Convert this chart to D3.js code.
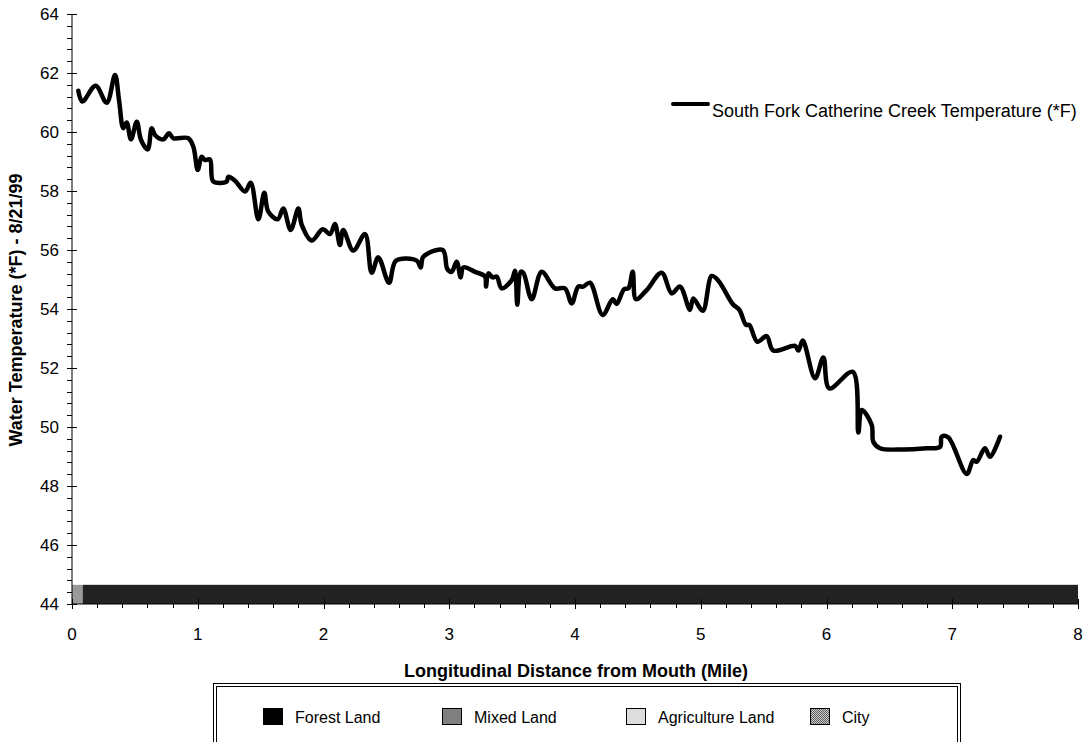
<!DOCTYPE html>
<html>
<head>
<meta charset="utf-8">
<script src="https://cdn.jsdelivr.net/npm/d3@7"></script>
<style>
  html, body { margin: 0; padding: 0; background: #fff; }
  svg { display: block; font-family: "Liberation Sans", Arial, sans-serif; }
</style>
</head>
<body>
<svg id="chart" width="1089" height="742"></svg>
<script>
// Distance from mouth (mile) along South Fork Catherine Creek
const distance = [
  0.050, 0.082, 0.188, 0.276, 0.342, 0.374, 0.408, 0.435, 0.469, 0.515,
  0.549, 0.602, 0.634, 0.660, 0.726, 0.771, 0.806, 0.925, 0.965, 1.000,
  1.031, 1.058, 1.097, 1.124, 1.230, 1.243, 1.296, 1.376, 1.421, 1.482,
  1.529, 1.561, 1.636, 1.680, 1.739, 1.800, 1.827, 1.906, 1.994, 2.052,
  2.091, 2.131, 2.157, 2.237, 2.330, 2.383, 2.436, 2.521, 2.577, 2.741,
  2.773, 2.794, 2.948, 2.985, 3.019, 3.059, 3.091, 3.112, 3.205, 3.284,
  3.292, 3.311, 3.345, 3.377, 3.417, 3.497, 3.523, 3.541, 3.568, 3.589,
  3.656, 3.735, 3.841, 3.920, 3.974, 4.026, 4.066, 4.119, 4.220, 4.300,
  4.331, 4.390, 4.424, 4.459, 4.485, 4.570, 4.689, 4.769, 4.835, 4.914,
  4.941, 5.016, 5.087, 5.140, 5.254, 5.307, 5.360, 5.386, 5.450, 5.524,
  5.577, 5.750, 5.776, 5.811, 5.909, 5.975, 6.022, 6.209, 6.253, 6.280,
  6.360, 6.372, 6.425, 6.611, 6.797, 6.903, 6.916, 6.968, 7.115, 7.167,
  7.194, 7.260, 7.300, 7.380
];

// Water temperature (*F) on 8/21/99 at each distance
const temperature = [
  61.40, 61.03, 61.57, 60.99, 61.93, 61.08, 60.13, 60.32, 59.75, 60.35,
  59.73, 59.41, 60.13, 59.90, 59.75, 59.96, 59.79, 59.79, 59.50, 58.71,
  59.16, 59.05, 59.07, 58.32, 58.32, 58.48, 58.35, 57.98, 58.28, 57.04,
  57.94, 57.30, 57.04, 57.41, 56.68, 57.41, 56.85, 56.32, 56.70, 56.54,
  56.88, 56.17, 56.68, 55.98, 56.54, 55.23, 55.75, 54.89, 55.64, 55.64,
  55.41, 55.77, 56.00, 55.35, 55.26, 55.60, 55.07, 55.41, 55.26, 55.10,
  54.76, 55.21, 55.07, 55.10, 54.70, 54.98, 55.30, 54.14, 55.26, 55.23,
  54.33, 55.26, 54.70, 54.70, 54.19, 54.76, 54.76, 54.89, 53.80, 54.33,
  54.17, 54.67, 54.70, 55.26, 54.33, 54.64, 55.23, 54.53, 54.76, 53.97,
  54.36, 53.94, 55.12, 54.96, 54.17, 53.97, 53.46, 53.46, 52.89, 53.08,
  52.59, 52.75, 52.59, 52.93, 51.65, 52.36, 51.31, 51.87, 49.81, 50.58,
  50.07, 49.50, 49.28, 49.24, 49.28, 49.33, 49.67, 49.65, 48.41, 48.88,
  48.82, 49.28, 48.99, 49.67
];

// Land use along the reach (mile ranges)
const landStart = [0, 0.085];
const landEnd   = [0.085, 8];
const landType  = ["Mixed Land", "Forest Land"];

// Legend categories for land use
const landCategories = ["Forest Land", "Mixed Land", "Agriculture Land", "City"];

// Axis ticks
const xTicks = [0, 1, 2, 3, 4, 5, 6, 7, 8];
const yTicks = [44, 46, 48, 50, 52, 54, 56, 58, 60, 62, 64];

const seriesName = "South Fork Catherine Creek Temperature (*F)";
const xTitle = "Longitudinal Distance from Mouth (Mile)";
const yTitle = "Water Temperature (*F) - 8/21/99";

const svg = d3.select("#chart");

const defs = svg.append("defs");
const pat = defs.append("pattern")
  .attr("id", "cityPattern").attr("width", 2).attr("height", 2)
  .attr("patternUnits", "userSpaceOnUse");
pat.append("rect").attr("width", 2).attr("height", 2).attr("fill", "#c8c8c8");
pat.append("rect").attr("width", 1).attr("height", 1).attr("fill", "#606060");
pat.append("rect").attr("x", 1).attr("y", 1).attr("width", 1).attr("height", 1).attr("fill", "#606060");

const landFill = {
  "Forest Land": "#222222",
  "Mixed Land": "#999999",
  "Agriculture Land": "#dddddd",
  "City": "url(#cityPattern)"
};
const legendFill = {
  "Forest Land": "#000000",
  "Mixed Land": "#808080",
  "Agriculture Land": "#dddddd",
  "City": "url(#cityPattern)"
};

const x = d3.scaleLinear().domain([0, 8]).range([72, 1078]);
const y = d3.scaleLinear().domain([44, 64]).range([604, 14]);

// Land-use band along the bottom of the plot
const bandTop = 44.65;
svg.append("g").selectAll("rect")
  .data(landType.map((t, i) => ({ t, a: landStart[i], b: landEnd[i] })))
  .join("rect")
  .attr("x", d => x(d.a))
  .attr("width", d => x(d.b) - x(d.a))
  .attr("y", y(bandTop))
  .attr("height", y(44) - y(bandTop))
  .attr("fill", d => landFill[d.t]);

// Temperature profile
const pts = distance.map((d, i) => [d, temperature[i]]);
const line = d3.line()
  .x(d => x(d[0]))
  .y(d => y(d[1]))
  .curve(d3.curveCatmullRom.alpha(0.5));
svg.append("path")
  .datum(pts)
  .attr("d", line)
  .attr("fill", "none")
  .attr("stroke", "#000")
  .attr("stroke-width", 4.5)
  .attr("stroke-linejoin", "round")
  .attr("stroke-linecap", "round");

// Y axis
const yAxisG = svg.append("g");
yAxisG.append("line")
  .attr("x1", x(0)).attr("x2", x(0))
  .attr("y1", y(64)).attr("y2", y(44))
  .attr("stroke", "#000").attr("stroke-width", 1);
const yMinor = d3.range(44, 64.001, 0.4).filter(v => Math.abs(v / 2 - Math.round(v / 2)) > 1e-6);
yAxisG.selectAll(".ymin").data(yMinor).join("line")
  .attr("x1", x(0) - 5).attr("x2", x(0))
  .attr("y1", d => Math.round(y(d)) + 0.5).attr("y2", d => Math.round(y(d)) + 0.5)
  .attr("stroke", "#000");
yAxisG.selectAll(".ymaj").data(yTicks).join("line")
  .attr("x1", x(0) - 5).attr("x2", x(0) + 5)
  .attr("y1", d => Math.round(y(d)) + 0.5).attr("y2", d => Math.round(y(d)) + 0.5)
  .attr("stroke", "#000");
yAxisG.selectAll("text").data(yTicks).join("text")
  .attr("x", x(0) - 13).attr("y", d => y(d))
  .attr("dy", "0.36em").attr("text-anchor", "end")
  .attr("font-size", 17).attr("fill", "#000")
  .text(d => d);

// X axis
const xAxisG = svg.append("g");
xAxisG.append("line")
  .attr("x1", x(0)).attr("x2", x(8))
  .attr("y1", y(44)).attr("y2", y(44))
  .attr("stroke", "#000");
const xMinor = d3.range(0, 8.001, 0.2).filter(v => Math.abs(v - Math.round(v)) > 1e-6);
xAxisG.selectAll(".xmin").data(xMinor).join("line")
  .attr("x1", d => Math.round(x(d)) + 0.5).attr("x2", d => Math.round(x(d)) + 0.5)
  .attr("y1", y(44)).attr("y2", y(44) + 4)
  .attr("stroke", "#000");
xAxisG.selectAll(".xmaj").data(xTicks).join("line")
  .attr("x1", d => Math.round(x(d)) + 0.5).attr("x2", d => Math.round(x(d)) + 0.5)
  .attr("y1", y(44) - 5).attr("y2", y(44) + 5)
  .attr("stroke", "#000");
xAxisG.selectAll("text").data(xTicks).join("text")
  .attr("x", d => x(d)).attr("y", 640)
  .attr("text-anchor", "middle")
  .attr("font-size", 17).attr("fill", "#000")
  .text(d => d);

// Axis titles
svg.append("text")
  .attr("x", 576).attr("y", 677)
  .attr("text-anchor", "middle")
  .attr("font-size", 18).attr("font-weight", "bold")
  .text(xTitle);
svg.append("text")
  .attr("transform", "translate(22,310) rotate(-90)")
  .attr("text-anchor", "middle")
  .attr("font-size", 18).attr("font-weight", "bold")
  .text(yTitle);

// Series legend
const sl = svg.append("g");
sl.append("line")
  .attr("x1", 673).attr("x2", 708).attr("y1", 104).attr("y2", 104)
  .attr("stroke", "#000").attr("stroke-width", 4).attr("stroke-linecap", "round");
sl.append("text")
  .attr("x", 712).attr("y", 117)
  .attr("font-size", 18).attr("fill", "#000")
  .text(seriesName);

// Land-use legend box (double border)
const lg = svg.append("g");
lg.append("rect").attr("x", 213.5).attr("y", 683.5).attr("width", 747).attr("height", 80)
  .attr("fill", "#fff").attr("stroke", "#000");
lg.append("rect").attr("x", 216.5).attr("y", 686.5).attr("width", 741).attr("height", 80)
  .attr("fill", "none").attr("stroke", "#000");
const legX = [263, 442, 626, 810];
const items = lg.selectAll("g.item").data(landCategories).join("g")
  .attr("transform", (d, i) => `translate(${legX[i]},708)`);
items.append("rect")
  .attr("x", 0.5).attr("y", 0.5).attr("width", 19).attr("height", 16)
  .attr("fill", d => legendFill[d]).attr("stroke", "#000");
items.append("text")
  .attr("x", 32).attr("y", 15)
  .attr("font-size", 16).attr("fill", "#000")
  .text(d => d);
</script>
</body>
</html>
